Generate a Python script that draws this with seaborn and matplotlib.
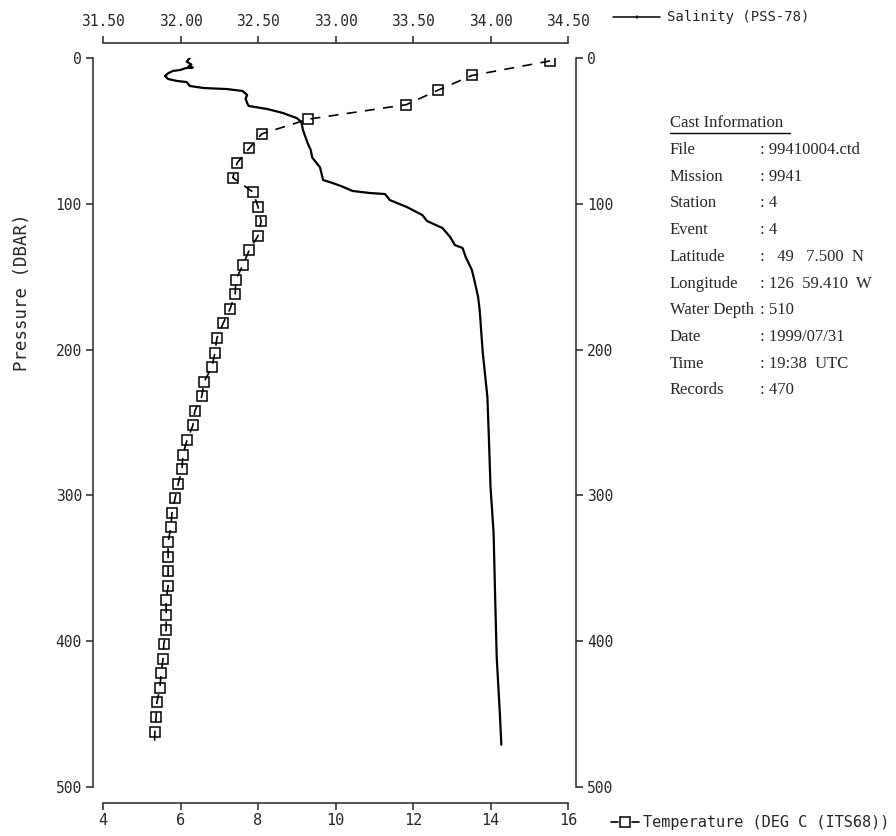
import matplotlib
matplotlib.use("Agg")
import matplotlib.pyplot as plt
import seaborn as sns
from matplotlib.lines import Line2D

sns.set_style("ticks")
plt.rcParams['font.family'] = ['DejaVu Sans Mono', 'DejaVu Sans']

# ---- data ----
temp_pressure = [2, 12, 22, 32, 42, 52, 62, 72, 82, 92, 102, 112, 122, 132, 142,
                 152, 162, 172, 182, 192, 202, 212, 222, 232, 242, 252, 262, 272,
                 282, 292, 302, 312, 322, 332, 342, 352, 362, 372, 382, 392, 402,
                 412, 422, 432, 442, 452, 462, 470]
temp_values = [15.54, 13.52, 12.65, 11.83, 9.29, 8.10, 7.77, 7.46, 7.35, 7.87, 8.00,
               8.08, 8.00, 7.77, 7.61, 7.43, 7.41, 7.28, 7.10, 6.94, 6.89, 6.81,
               6.61, 6.55, 6.37, 6.32, 6.17, 6.06, 6.04, 5.94, 5.86, 5.78, 5.75,
               5.68, 5.68, 5.68, 5.68, 5.63, 5.63, 5.63, 5.57, 5.55, 5.50, 5.47,
               5.39, 5.37, 5.34, 5.33]

sal_pressure = [0.0, 2.5, 4.5, 6.0, 6.5, 7.0, 8.2, 8.9, 10.5, 12.3, 14.4, 15.8, 16.5,
                19.2, 20.6, 21.3, 22.6, 25.4, 28.0, 30.9, 32.9, 35.0, 37.7, 41.2,
                43.9, 49.4, 58.3, 63.0, 68.3, 75.0, 83.7, 85.7, 88.0, 91.2, 92.6,
                93.3, 97.4, 102.2, 107.7, 111.8, 116.6, 122.8, 128.3, 130.3, 136.5,
                145.4, 154.3, 163.9, 172.8, 202.0, 232.5, 262.0, 294.0, 325.8,
                369.7, 411.0, 449.0, 471.0]
sal_values = [32.06, 32.04, 32.07, 32.05, 32.08, 32.03, 32.00, 31.95, 31.92, 31.90,
              31.92, 31.98, 32.04, 32.06, 32.15, 32.30, 32.40, 32.43, 32.42, 32.43,
              32.44, 32.56, 32.66, 32.75, 32.78, 32.79, 32.82, 32.84, 32.85, 32.90,
              32.92, 32.98, 33.04, 33.11, 33.22, 33.32, 33.35, 33.46, 33.56, 33.59,
              33.69, 33.74, 33.77, 33.82, 33.84, 33.88, 33.90, 33.92, 33.93, 33.95,
              33.98, 33.99, 34.00, 34.02, 34.03, 34.04, 34.06, 34.07]

temp_ticks = [4, 6, 8, 10, 12, 14, 16]
sal_ticks = [31.5, 32.0, 32.5, 33.0, 33.5, 34.0, 34.5]
pressure_ticks = [0, 100, 200, 300, 400, 500]

sal_label = "Salinity (PSS-78)"
temp_label = "Temperature (DEG C (ITS68))"
y_label = "Pressure (DBAR)"

cast_title = "Cast Information"
cast_keys = ["File", "Mission", "Station", "Event", "Latitude", "Longitude",
             "Water Depth", "Date", "Time", "Records"]
cast_vals = [": 99410004.ctd", ": 9941", ": 4", ": 4", ":   49   7.500  N",
             ": 126  59.410  W", ": 510", ": 1999/07/31", ": 19:38  UTC", ": 470"]

# ---- layout (pixels) ----
W, H = 896, 836
L, R, T, B = 93, 576, 58, 787
S0, S1 = 103, 568
PX = 0.72  # points per pixel at 100 dpi


def fx(x):
    return x / W


def fy(y):
    return 1 - y / H


def lims(a, b):
    scale = (S1 - S0) / (b - a)
    return (a - (S0 - L) / scale, b + (R - S1) / scale)


fig = plt.figure(figsize=(W / 100, H / 100), dpi=100)
ax = fig.add_axes([fx(L), fy(B), (R - L) / W, (B - T) / H])
ax_top = ax.twiny()

sns.lineplot(x=temp_values, y=temp_pressure, ax=ax, sort=False, estimator=None,
             color='black', linewidth=1.2, linestyle=(0, (6, 5)), marker='s',
             markersize=6.5, markerfacecolor='none', markeredgecolor='black',
             markeredgewidth=1.1, markevery=list(range(len(temp_values) - 1)))
sns.lineplot(x=sal_values, y=sal_pressure, ax=ax_top, sort=False, estimator=None,
             color='black', linewidth=1.6)

ax.set_xlim(lims(4, 16))
ax_top.set_xlim(lims(31.5, 34.5))
ax.set_ylim(500, 0)

# spines
ax.spines['top'].set_visible(False)
ax.spines['bottom'].set_bounds(4, 16)
ax.spines['bottom'].set_position(('outward', 16 * PX))
for s in ['left', 'right', 'bottom']:
    ax.spines[s].set_linewidth(1.1)
for s in ['left', 'right', 'bottom']:
    ax_top.spines[s].set_visible(False)
ax_top.spines['top'].set_bounds(31.5, 34.5)
ax_top.spines['top'].set_position(('outward', 15 * PX))
ax_top.spines['top'].set_linewidth(1.1)

# ticks
tick_len = 7 * PX
ax.set_xticks(temp_ticks, labels=[str(v) for v in temp_ticks])
ax.set_yticks(pressure_ticks, labels=[str(v) for v in pressure_ticks])
ax.tick_params(axis='x', bottom=True, top=False, direction='out', length=tick_len,
               width=1.1, labelsize=11, pad=2)
ax.tick_params(axis='y', left=True, right=True, labelleft=True, labelright=True,
               direction='out', length=tick_len, width=1.1, labelsize=10.5, pad=3)
ax_top.set_xticks(sal_ticks, labels=[f"{v:.2f}" for v in sal_ticks])
ax_top.tick_params(axis='x', top=True, bottom=False, labeltop=True,
                   labelbottom=False, direction='out', length=tick_len, width=1.1,
                   labelsize=10.5, pad=5)

ax.set_ylabel(y_label, fontsize=12.5)
ax.yaxis.set_label_coords((31 - L) / (R - L), (B - 292) / (B - T))
ax.set_xlabel("")
ax_top.set_xlabel("")

# legends
fig.add_artist(Line2D([fx(613), fx(660)], [fy(17), fy(17)], color='black', lw=1.1))
fig.add_artist(Line2D([fx(637), fx(637)], [fy(16), fy(18)], color='black', lw=1.1))
fig.text(fx(667), fy(17), sal_label, fontsize=10, va='center', ha='left')

fig.add_artist(Line2D([fx(611), fx(618)], [fy(822), fy(822)], color='black', lw=1.2))
fig.add_artist(Line2D([fx(632), fx(639)], [fy(822), fy(822)], color='black', lw=1.2))
fig.add_artist(Line2D([fx(625)], [fy(822)], marker='s', markersize=6.5,
                      markerfacecolor='none', markeredgecolor='black',
                      markeredgewidth=1.1, linestyle='none'))
fig.text(fx(643), fy(822), temp_label, fontsize=11, va='center', ha='left')

# cast information
serif = ['Liberation Serif', 'DejaVu Serif']
fig.text(fx(670), fy(123), cast_title, fontsize=12, family=serif,
         va='center', ha='left')
fig.add_artist(Line2D([fx(670), fx(790)], [fy(133), fy(133)], color='black', lw=1.0))
row_y0, row_dy = 150, 26.7
for i, (k, v) in enumerate(zip(cast_keys, cast_vals)):
    yy = row_y0 + i * row_dy
    fig.text(fx(670), fy(yy), k, fontsize=12, family=serif, va='center', ha='left')
    fig.text(fx(760), fy(yy), v, fontsize=12, family=serif, va='center', ha='left')

fig.savefig("out.png", dpi=100, facecolor='white')
